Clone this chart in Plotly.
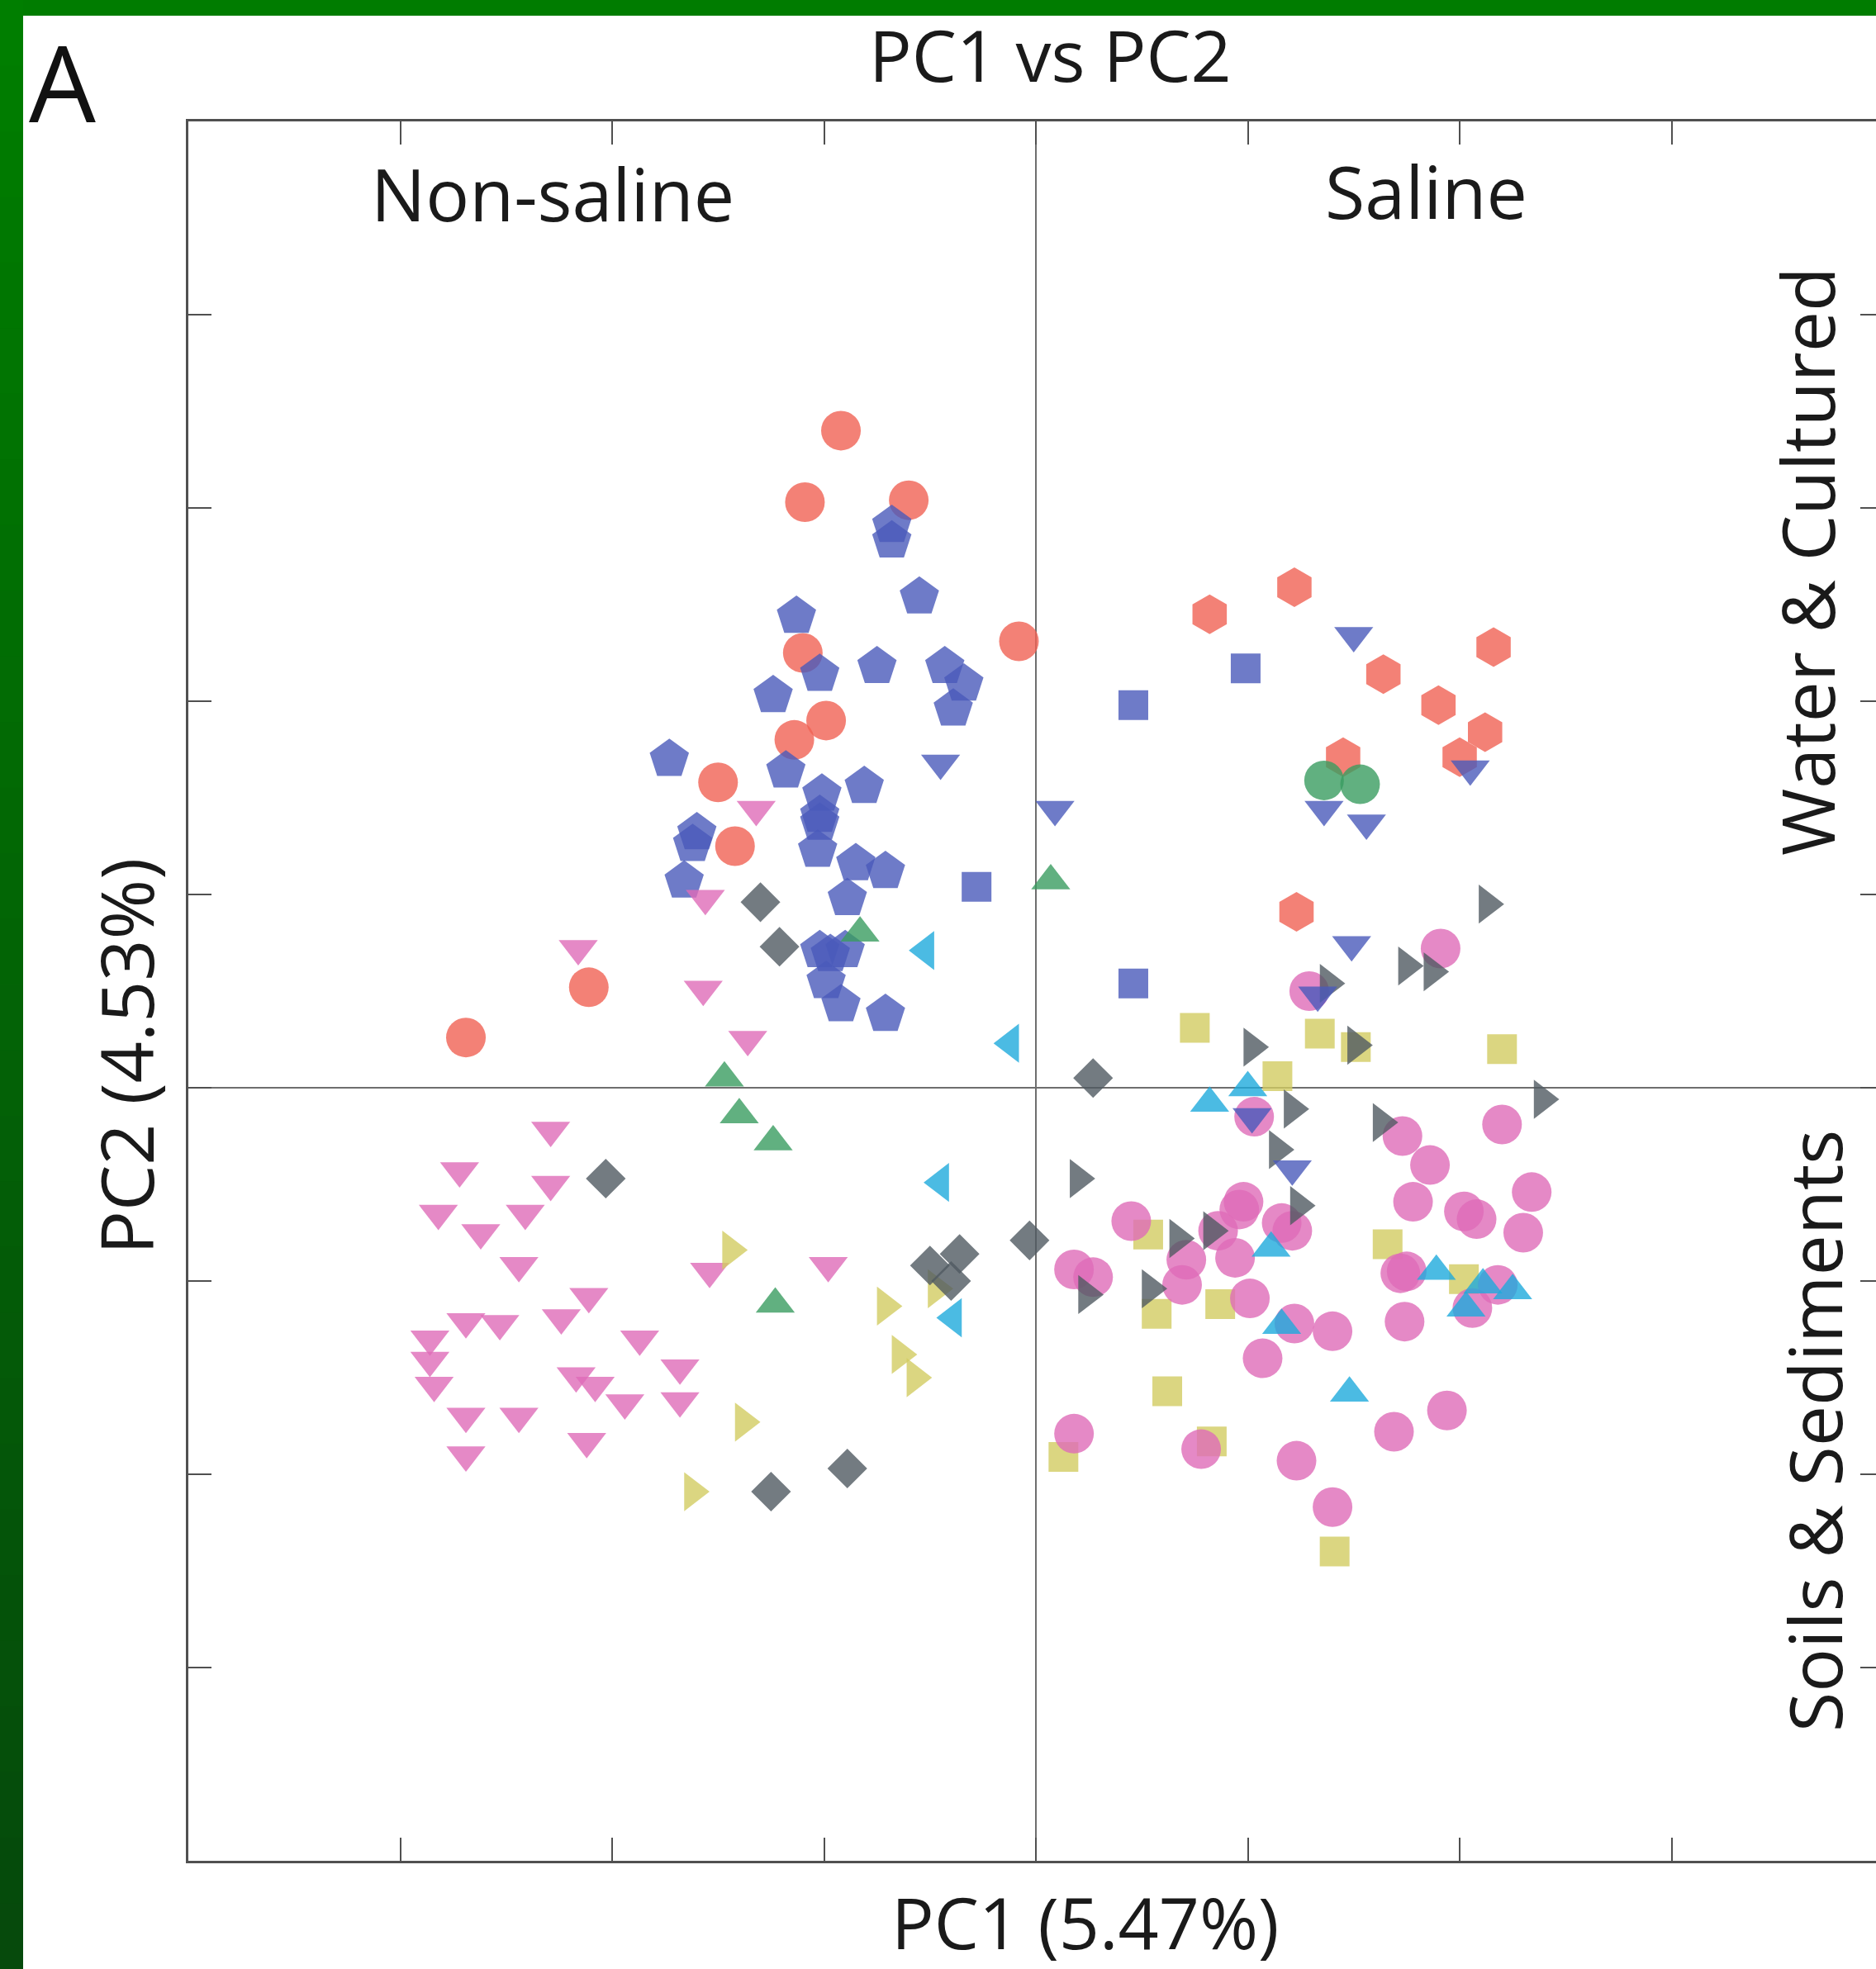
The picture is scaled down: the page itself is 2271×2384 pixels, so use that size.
import plotly.graph_objects as go

# ---------------- data ----------------
salmon_circle_x = [-0.92, -1.09, -0.60, -0.08, -1.10, -0.99, -1.14, -1.50, -1.42, -2.11, -2.69]
salmon_circle_y = [3.40, 3.03, 3.04, 2.31, 2.25, 1.90, 1.80, 1.58, 1.25, 0.52, 0.26]

salmon_hex_x = [1.22, 0.82, 2.16, 1.64, 1.90, 2.12, 2.00, 1.45, 1.23]
salmon_hex_y = [2.59, 2.45, 2.28, 2.14, 1.98, 1.84, 1.71, 1.71, 0.91]

green_circle_x = [1.36, 1.53]
green_circle_y = [1.59, 1.57]

blue_pent_x = [-0.68, -0.68, -0.55, -1.13, -1.02, -0.75, -0.43, -0.34, -0.39, -1.24,
               -1.73, -1.18, -0.81, -1.01, -1.02, -1.02, -1.60, -1.62, -1.03, -0.85,
               -0.71, -1.66, -0.89, -1.02, -0.97, -0.90, -0.99, -0.92, -0.71]
blue_pent_y = [2.91, 2.83, 2.54, 2.44, 2.14, 2.18, 2.18, 2.09, 1.96, 2.03,
               1.70, 1.64, 1.56, 1.52, 1.41, 1.37, 1.32, 1.26, 1.23, 1.16,
               1.12, 1.07, 0.98, 0.71, 0.69, 0.71, 0.55, 0.43, 0.38]

blue_square_x = [-0.28, 0.99, 0.46, 0.46]
blue_square_y = [1.04, 2.17, 1.98, 0.54]

blue_tri_down_x = [-0.45, 0.09, 1.50, 2.05, 1.36, 1.56, 1.49, 1.33, 1.02, 1.21]
blue_tri_down_y = [1.68, 1.44, 2.34, 1.65, 1.44, 1.37, 0.74, 0.48, -0.15, -0.42]

pink_tri_down_x = [-1.32, -1.56, -2.16, -1.57, -1.36, -2.29, -2.72, -2.29, -2.82, -2.41,
                   -2.62, -2.44, -1.54, -0.98, -2.11, -2.69, -2.53, -2.24, -2.86, -1.87,
                   -2.86, -1.68, -2.17, -2.84, -2.08, -1.94, -1.68, -2.69, -2.44, -2.12, -2.69]
pink_tri_down_y = [1.44, 0.98, 0.72, 0.51, 0.25, -0.22, -0.43, -0.50, -0.65, -0.65,
                   -0.75, -0.92, -0.95, -0.92, -1.08, -1.21, -1.22, -1.19, -1.30, -1.30,
                   -1.41, -1.45, -1.49, -1.54, -1.54, -1.63, -1.62, -1.70, -1.70, -1.83, -1.90]

green_tri_up_x = [-0.83, 0.07, -1.47, -1.40, -1.24, -1.23]
green_tri_up_y = [0.80, 1.07, 0.05, -0.14, -0.28, -1.12]

yellow_square_x = [0.75, 1.34, 1.51, 2.20, 1.14, 0.53, 0.57, 0.87, 1.66, 2.02, 0.62, 0.13, 0.83, 1.41]
yellow_square_y = [0.31, 0.28, 0.21, 0.20, 0.06, -0.76, -1.17, -1.12, -0.81, -0.99, -1.57, -1.91, -1.83, -2.40]

pink_circle_x = [1.91, 1.29, 2.20, 1.73, 1.86, 2.34, 1.78, 2.02, 2.08, 2.30,
                 1.72, 1.75, 1.74, 2.06, 2.18, 0.96, 0.98, 0.45, 1.03, 0.18,
                 0.27, 0.71, 0.69, 0.94, 1.21, 1.16, 0.86, 1.01, 1.22, 1.40,
                 1.07, 0.18, 0.78, 1.23, 1.69, 1.94, 1.40]
pink_circle_y = [0.72, 0.50, -0.19, -0.25, -0.40, -0.54, -0.59, -0.64, -0.68, -0.75,
                 -0.96, -0.95, -1.21, -1.14, -1.02, -0.63, -0.59, -0.69, -0.15, -0.94,
                 -0.98, -0.89, -1.02, -0.88, -0.74, -0.70, -0.74, -1.09, -1.22, -1.26,
                 -1.40, -1.79, -1.87, -1.93, -1.78, -1.67, -2.17]

yellow_tri_right_x = [-1.44, -0.71, -0.64, -0.57, -1.38, -1.62, -0.47]
yellow_tri_right_y = [-0.84, -1.13, -1.38, -1.50, -1.73, -2.09, -1.04]

gray_diamond_x = [-1.30, -1.21, 0.27, -2.03, -0.03, -0.36, -0.50, -0.40, -0.89, -1.25]
gray_diamond_y = [0.96, 0.73, 0.05, -0.47, -0.79, -0.86, -0.92, -1.00, -1.97, -2.09]

gray_tri_right_x = [2.13, 1.75, 1.87, 1.38, 1.02, 1.51, 2.39, 1.21, 1.63, 1.14, 0.20, 1.24, 0.67, 0.83, 0.54, 0.24]
gray_tri_right_y = [0.95, 0.63, 0.60, 0.54, 0.21, 0.22, -0.06, -0.11, -0.18, -0.32, -0.47, -0.61, -0.78, -0.74, -1.04, -1.07]

cyan_tri_left_x = [-0.52, -0.12, -0.45, -0.39]
cyan_tri_left_y = [0.71, 0.23, -0.49, -1.19]

cyan_tri_up_x = [0.82, 1.00, 1.11, 1.89, 2.11, 2.25, 2.03, 1.16, 1.48]
cyan_tri_up_y = [-0.08, 0.00, -0.83, -0.95, -1.02, -1.05, -1.14, -1.23, -1.58]

x_tick_vals = [-3, -2, -1, 0, 1, 2, 3]
y_tick_vals = [-3, -2, -1, 0, 1, 2, 3, 4]

title_text = "PC1 vs PC2"
x_title = "PC1 (5.47%)"
y_title = "PC2 (4.53%)"
panel_label = "A"
quadrant_labels = ["Non-saline", "Saline"]
side_labels = ["Water & Cultured", "Soils & Sediments"]

# ---------------- styling ----------------
W, H = 2271, 2384
ML, MT, MB = 228, 147, 131
PW, PH = W - ML, H - MT - MB
X_MIN, X_UNIT = -4.0, 256.5
Y_MIN, Y_MAX = -4.0, 5.0

def px(xp):
    return (xp - ML) / PW

def py(yp):
    return (H - MB - yp) / PH

SALMON = "rgb(240,98,84)"
BLUE = "rgb(74,90,186)"
PINK = "rgb(222,108,184)"
GREEN = "rgb(58,156,96)"
GRAY = "rgb(80,90,98)"
YELLOW = "rgb(210,204,98)"
CYAN = "rgb(30,170,220)"
OPAC = 0.8
FONT = "Open Sans, Lato, sans-serif"
AXCOL = "#505050"

series = [
    (salmon_circle_x, salmon_circle_y, "circle", SALMON, 48),
    (salmon_hex_x, salmon_hex_y, "hexagon", SALMON, 48),
    (blue_pent_x, blue_pent_y, "pentagon", BLUE, 50),
    (blue_square_x, blue_square_y, "square", BLUE, 36),
    (green_circle_x, green_circle_y, "circle", GREEN, 48),
    (green_tri_up_x, green_tri_up_y, "triangle-up", GREEN, 41),
    (pink_tri_down_x, pink_tri_down_y, "triangle-down", PINK, 41),
    (yellow_square_x, yellow_square_y, "square", YELLOW, 36),
    (pink_circle_x, pink_circle_y, "circle", PINK, 48),
    (yellow_tri_right_x, yellow_tri_right_y, "triangle-right", YELLOW, 41),
    (gray_diamond_x, gray_diamond_y, "diamond", GRAY, 37),
    (gray_tri_right_x, gray_tri_right_y, "triangle-right", GRAY, 41),
    (cyan_tri_left_x, cyan_tri_left_y, "triangle-left", CYAN, 41),
    (cyan_tri_up_x, cyan_tri_up_y, "triangle-up", CYAN, 41),
    (blue_tri_down_x, blue_tri_down_y, "triangle-down", BLUE, 41),
]

fig = go.Figure()
for xs, ys, sym, col, size in series:
    fig.add_trace(go.Scatter(
        x=xs, y=ys, mode="markers",
        marker=dict(symbol=sym, color=col, size=size, opacity=OPAC, line=dict(width=0)),
        showlegend=False, hoverinfo="x+y",
    ))

x_max = X_MIN + PW / X_UNIT

fig.update_xaxes(
    range=[X_MIN, x_max], showgrid=False, zeroline=True, zerolinecolor="#6e6e6e", zerolinewidth=2,
    showline=True, linecolor=AXCOL, linewidth=2.5, mirror="ticks",
    ticks="inside", ticklen=28, tickwidth=2, tickcolor=AXCOL,
    tickvals=x_tick_vals, showticklabels=False,
)
fig.update_yaxes(
    range=[Y_MIN, Y_MAX], showgrid=False, zeroline=True, zerolinecolor="#6e6e6e", zerolinewidth=2,
    showline=True, linecolor=AXCOL, linewidth=2.5, mirror=False,
    ticks="inside", ticklen=28, tickwidth=2, tickcolor=AXCOL,
    tickvals=y_tick_vals, showticklabels=False,
)

shapes = []
# right-hand tick marks (the right frame line itself sits just beyond the picture edge)
for v in y_tick_vals:
    shapes.append(dict(type="line", xref="paper", yref="y", x0=px(W - 19), x1=1.0, y0=v, y1=v,
                       line=dict(color=AXCOL, width=2)))
# green frame: top strip and left strip with a vertical gradient
shapes.append(dict(type="rect", xref="paper", yref="paper", x0=px(0), x1=px(W), y0=py(19), y1=py(0),
                   fillcolor="rgb(0,124,0)", line=dict(width=0), layer="above"))
NSEG = 30
for i in range(NSEG):
    t = i / (NSEG - 1)
    r = int(0 + 6 * t)
    g = int(126 - 52 * t)
    b = int(0 + 12 * t)
    y0p = H * i / NSEG
    y1p = H * (i + 1) / NSEG + 1
    shapes.append(dict(type="rect", xref="paper", yref="paper", x0=px(0), x1=px(28),
                       y0=py(y1p), y1=py(y0p), fillcolor=f"rgb({r},{g},{b})",
                       line=dict(width=0), layer="above"))

TXT = "#1a1a1a"
annotations = [
    dict(text=title_text, x=px(1271), y=py(66), font=dict(size=86, color=TXT, family=FONT)),
    dict(text=quadrant_labels[0], x=px(669), y=py(234), font=dict(size=88, color=TXT, family=FONT)),
    dict(text=quadrant_labels[1], x=px(1726), y=py(231), font=dict(size=88, color=TXT, family=FONT)),
    dict(text=side_labels[0], x=px(2187), y=py(680), textangle=-90, font=dict(size=88, color=TXT, family=FONT)),
    dict(text=side_labels[1], x=px(2196), y=py(1733), textangle=-90, font=dict(size=88, color=TXT, family=FONT)),
    dict(text=x_title, x=px(1313), y=py(2326), font=dict(size=86, color=TXT, family=FONT)),
    dict(text=y_title, x=px(152), y=py(1279), textangle=-90, font=dict(size=88, color=TXT, family=FONT)),
    dict(text=panel_label, x=px(75), y=py(98), font=dict(size=128, color="#111111", family=FONT)),
]
for a in annotations:
    a.update(xref="paper", yref="paper", xanchor="center", yanchor="middle", showarrow=False)

fig.update_layout(
    width=W, height=H, autosize=False,
    margin=dict(l=ML, r=0, t=MT, b=MB, pad=0),
    paper_bgcolor="white", plot_bgcolor="white",
    shapes=shapes, annotations=annotations, showlegend=False,
)

# remove the browser's default 8px body margin so the figure sits at the page's top-left corner
fig.write_html(
    "out.html",
    config={"displayModeBar": False},
    post_script="document.body.style.margin='0';document.body.style.overflow='hidden';",
)
